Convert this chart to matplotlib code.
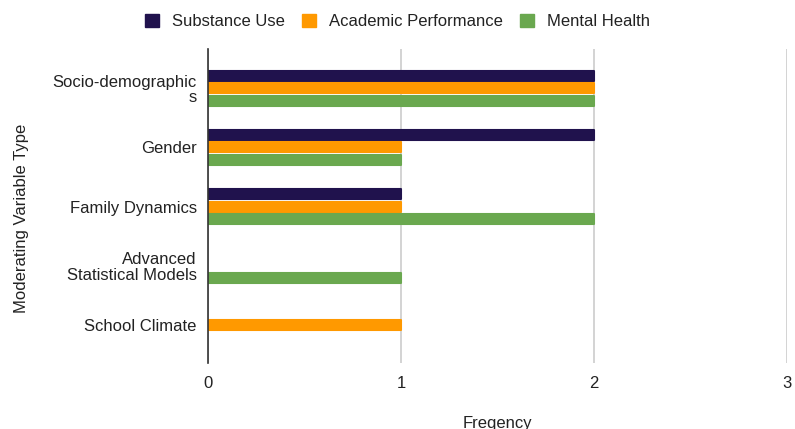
import matplotlib
matplotlib.use("Agg")
import matplotlib.pyplot as plt
import numpy as np

categories = ["Socio-demographic\ns", "Gender", "Family Dynamics",
              "Advanced\nStatistical Models", "School Climate"]
series_names = ["Substance Use", "Academic Performance", "Mental Health"]
substance_use = [2, 2, 1, 0, 0]
academic_performance = [2, 1, 1, 0, 1]
mental_health = [2, 1, 2, 1, 0]
x_ticks = [0, 1, 2, 3]

colors = ["#20124d", "#ff9900", "#6aa84f"]
plt.rcParams['font.family'] = ['Liberation Sans', 'DejaVu Sans']
FS = 12

fig = plt.figure(figsize=(7.95, 4.29), dpi=100)
ax = fig.add_axes([0.2616, 0.1538, 0.728, 0.732])

y = np.arange(len(categories))
pitch = 0.21
bar_h = 0.17
all_series = [substance_use, academic_performance, mental_health]
for i, (vals, c) in enumerate(zip(all_series, colors)):
    offs = (i - 1) * pitch
    vals = np.array(vals)
    mask = vals > 0
    ax.barh(y[mask] + offs, vals[mask], height=bar_h, color=c,
            edgecolor=c, linewidth=1.5, joinstyle='round', zorder=3,
            label=series_names[i])

ax.set_xlim(0, 3)
ax.set_ylim(4.64, -0.66)
ax.set_xticks(x_ticks)
ax.set_xticklabels([str(t) for t in x_ticks])
ax.set_yticks(y)
ax.set_yticklabels(categories, linespacing=1.05)
ax.tick_params(axis='both', length=0, labelsize=FS, colors="#222222")
ax.tick_params(axis='x', pad=9)
ax.tick_params(axis='y', pad=8)
ax.grid(axis='x', color="#cccccc", linewidth=1.2, zorder=0)
ax.set_axisbelow(True)
for s in ["top", "right", "bottom"]:
    ax.spines[s].set_visible(False)
ax.spines["left"].set_color("#333333")
ax.spines["left"].set_linewidth(1.2)
ax.spines["left"].set_zorder(4)

ax.set_xlabel("Freqency", fontsize=FS, color="#222222", labelpad=18)
ax.set_ylabel("Moderating Variable Type", fontsize=FS, color="#222222")
ax.yaxis.set_label_coords(-0.31, 0.462)

handles = [plt.Rectangle((0, 0), 1, 1, facecolor=c, edgecolor=c) for c in colors]
fig.legend(handles, series_names, loc="upper center", bbox_to_anchor=(0.5, 1.003),
           ncol=3, frameon=False, fontsize=FS, handlelength=0.85, handleheight=0.85,
           handletextpad=0.78, columnspacing=1.0, labelcolor="#222222")

fig.savefig("out.png", dpi=100)
